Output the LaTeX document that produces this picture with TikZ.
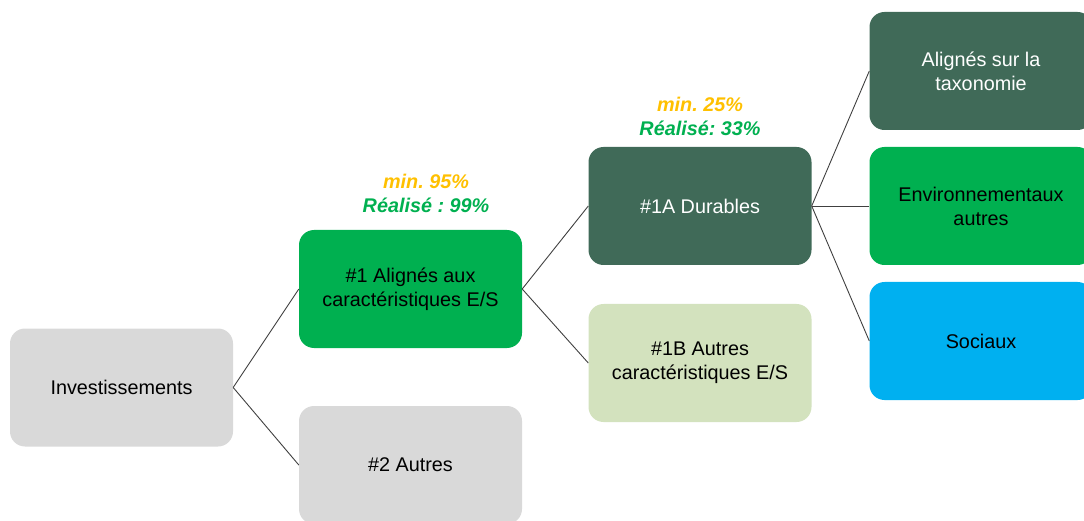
\documentclass[tikz,border=0pt]{standalone}
\usepackage{fontspec}
\setmainfont{Liberation Sans}
\frenchspacing
\definecolor{cgray}{HTML}{D9D9D9}
\definecolor{cgreen}{HTML}{00B050}
\definecolor{cdark}{HTML}{406A58}
\definecolor{clight}{HTML}{D3E2BE}
\definecolor{cblue}{HTML}{00B0F0}
\definecolor{corange}{HTML}{FFC000}
\begin{document}
\begin{tikzpicture}[x=1pt,y=-1pt,
  box/.style={rectangle, rounded corners=15pt, minimum width=223pt, minimum height=118pt,
    align=center, font=\fontsize{19.8}{24}\selectfont\frenchspacing, inner sep=0pt},
  lbl/.style={font=\fontsize{19.8}{24}\selectfont\bfseries\itshape\frenchspacing, inner sep=0pt},
  conn/.style={draw=black!75, line width=0.9pt}]
\useasboundingbox (0,0) rectangle (1084,521);
\clip (0,0) rectangle (1084,521);
\node[box, fill=cgray] (inv) at (121.5,387.5) {Investissements};
\node[box, fill=cgreen] (a1) at (410.5,289) {\#1 Alignés aux\\caractéristiques E/S};
\node[box, fill=cgray] (a2) at (410.5,465) {\#2 Autres};
\node[box, fill=cdark, text=white] (d1a) at (700,206) {\#1A Durables};
\node[box, fill=clight] (d1b) at (700,363) {\#1B Autres\\caractéristiques E/S};
\node[box, fill=cdark, text=white] (tax) at (981,71) {Alignés sur la\\taxonomie};
\node[box, fill=cgreen] (env) at (981,206) {Environnementaux\\autres};
\node[box, fill=cblue] (soc) at (981,341) {Sociaux};
\node[lbl, text=corange] (m95) at (426,181) {min. 95\%};
\node[lbl, text=cgreen] (r99) at (426,205) {Réalisé : 99\%};
\node[lbl, text=corange] (m25) at (700,104) {min. 25\%};
\node[lbl, text=cgreen] (r33) at (700,128) {Réalisé: 33\%};
\draw[conn] (inv.east) -- (a1.west);
\draw[conn] (inv.east) -- (a2.west);
\draw[conn] (a1.east) -- (d1a.west);
\draw[conn] (a1.east) -- (d1b.west);
\draw[conn] (d1a.east) -- (tax.west);
\draw[conn] (d1a.east) -- (env.west);
\draw[conn] (d1a.east) -- (soc.west);
\end{tikzpicture}
\end{document}
